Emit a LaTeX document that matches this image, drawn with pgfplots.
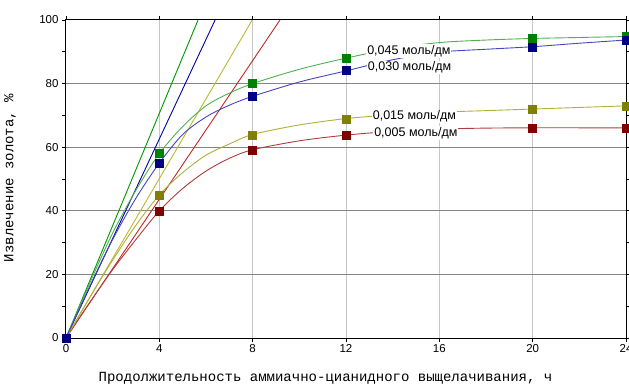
\documentclass[border=0pt]{standalone}
\usepackage{fontspec}
\setmainfont{Liberation Sans}
\newfontfamily\titlefont{Liberation Mono}
\usepackage{pgfplots}
\pgfplotsset{compat=1.18}

% marker colours
\definecolor{mgreen}{RGB}{0,128,0}
\definecolor{mblue}{RGB}{0,0,128}
\definecolor{molive}{RGB}{128,128,0}
\definecolor{mred}{RGB}{128,0,0}
% fitted curves
\definecolor{cgreen}{RGB}{80,176,80}
\definecolor{cblue}{RGB}{70,70,190}
\definecolor{colive}{RGB}{176,176,60}
\definecolor{cred}{RGB}{176,60,60}
% initial-rate lines
\definecolor{tgreen}{RGB}{0,150,0}
\definecolor{tblue}{RGB}{0,0,170}
\definecolor{tolive}{RGB}{185,185,50}
\definecolor{tred}{RGB}{190,40,40}

\begin{document}
\begin{tikzpicture}
\path[use as bounding box] (-66bp,-50bp) rectangle (563bp,338bp);
\begin{axis}[
  at={(0,0)}, anchor=south west,
  scale only axis, width=560bp, height=318bp,
  xmin=0, xmax=24, ymin=0, ymax=100,
  xtick={0,4,...,24}, ytick={0,20,...,100},
  minor y tick num=1,
  tick align=outside,
  major tick length=4bp, minor tick length=4bp,
  tick style={black, line width=0.8bp},
  axis line style={black, line width=1bp},
  grid=major,
  x grid style={black!22, line width=1bp},
  y grid style={black!48, line width=1bp},
  /pgf/number format/assume math mode=true,
  ticklabel style={font=\fontsize{11.5bp}{13bp}\selectfont},
  xticklabel style={yshift=1bp},
  yticklabel style={xshift=0bp},
  xlabel={Продолжительность аммиачно-цианидного выщелачивания, ч},
  ylabel={Извлечение золота, \%},
  label style={font=\titlefont\fontsize{14bp}{16bp}\selectfont},
  xlabel style={at={(axis description cs:0.4634,-0.1258)}, anchor=center},
  ylabel style={at={(axis description cs:-0.1,0.503)}, anchor=center},
  clip=true,
]

% initial-rate lines
\addplot[tred, line width=0.9bp] coordinates {(0,0) (9.17,100)};
\addplot[tolive, line width=0.9bp] coordinates {(0,0) (7.98,100)};
\addplot[tblue, line width=0.9bp] coordinates {(0,0) (6.39,100)};
\addplot[tgreen, line width=0.9bp] coordinates {(0,0) (5.66,100)};

% fitted kinetic curves
\addplot[cred, line width=0.9bp, smooth] coordinates {
  (0,0) (1,11) (2,21.5) (3,31) (4,40) (5,47) (6,52.5) (7,56.5) (8,59.2)
  (10,62) (12,63.8) (14,65) (16,65.7) (18,66) (20,66.1) (22,66.1) (24,66.1)};
\addplot[colive, line width=0.9bp, smooth] coordinates {
  (0,0) (1,12.5) (2,24.5) (3,35.5) (4,45) (5,52) (6,57.5) (7,61) (8,64)
  (10,67) (12,69) (14,70.2) (16,71) (18,71.5) (20,72) (22,72.5) (24,73)};
\addplot[cgreen, line width=0.9bp, smooth] coordinates {
  (0,0) (1,17) (2,33) (3,46.5) (4,58) (5,66.5) (6,73) (7,77) (8,80)
  (10,84.5) (12,88) (14,91) (16,92.9) (18,93.7) (20,94.2) (22,94.5) (24,94.8)};
\addplot[cblue, line width=0.9bp, smooth] coordinates {
  (0,0) (1,16) (2,31) (3,44) (4,55) (5,64) (6,69.5) (7,73.2) (8,76)
  (10,80.5) (12,84) (14,87.5) (16,89.9) (18,90.8) (20,91.6) (22,92.7) (24,93.7)};

% measured points
\addplot[only marks, mark=square*, mark size=4bp, mred, mark options={fill=mred, draw=mred}] coordinates {
  (0,0) (4,40) (8,59.2) (12,63.8) (20,66.1) (24,66.1)};
\addplot[only marks, mark=square*, mark size=4bp, molive, mark options={fill=molive, draw=molive}] coordinates {
  (0,0) (4,45) (8,63.8) (12,68.9) (20,71.9) (24,73)};
\addplot[only marks, mark=square*, mark size=4bp, mgreen, mark options={fill=mgreen, draw=mgreen}] coordinates {
  (0,0) (4,58) (8,80) (12,88) (20,94.2) (24,94.8)};
\addplot[only marks, mark=square*, mark size=4bp, mblue, mark options={fill=mblue, draw=mblue}] coordinates {
  (0,0) (4,55) (8,76) (12,84.1) (20,91.6) (24,93.7)};

% curve labels
\begin{scope}[every node/.style={fill=white, inner sep=1bp, anchor=west,
    font=\fontsize{12.5bp}{14bp}\selectfont}]
\node at (axis cs:12.86,90.3) {0,045 моль/дм};
\node at (axis cs:12.89,85.0) {0,030 моль/дм};
\node at (axis cs:13.10,69.6) {0,015 моль/дм};
\node at (axis cs:13.16,64.4) {0,005 моль/дм};
\end{scope}
\end{axis}
\end{tikzpicture}
\end{document}
